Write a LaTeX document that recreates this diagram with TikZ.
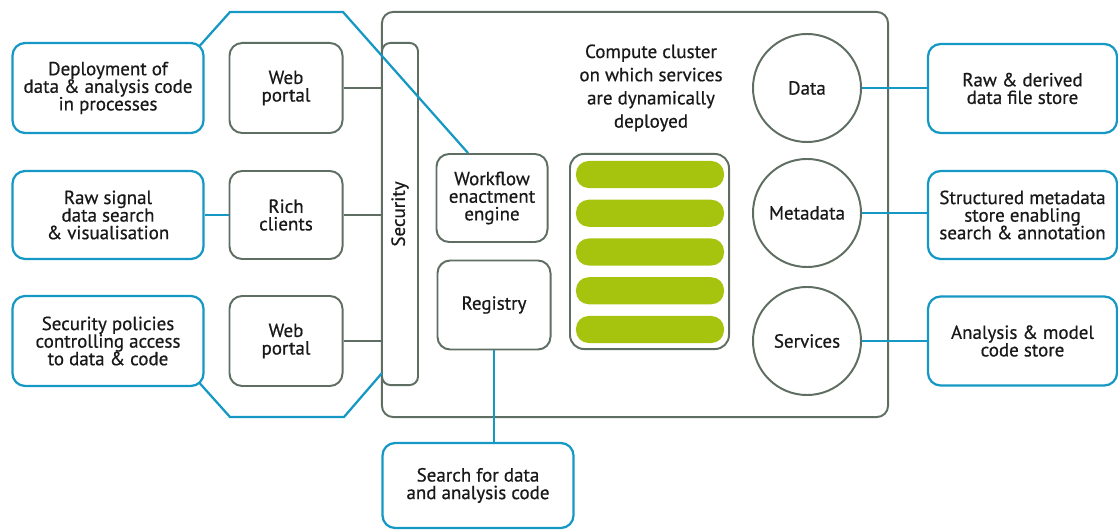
\documentclass[tikz,border=0pt]{standalone}
\usepackage{fontspec}
\setmainfont{PT Sans}[FakeBold=0.6]
\usepackage{xcolor}
\usetikzlibrary{calc,positioning}
\definecolor{lineblue}{RGB}{22,152,196}
\definecolor{framegrey}{RGB}{95,110,98}
\definecolor{cellgreen}{RGB}{166,196,14}
\tikzset{
  gbox/.style={draw=framegrey, line width=1.4pt, rounded corners=9pt, align=center,
    text=black!90, font=\fontsize{13.5}{12.5}\selectfont},
  bbox/.style={gbox, draw=lineblue, line width=1.6pt},
  gline/.style={draw=framegrey, line width=1.4pt},
  bline/.style={draw=lineblue, line width=1.6pt},
  store/.style={draw=framegrey, line width=1.4pt, circle, minimum size=2.7cm,
    text=black!90, font=\fontsize{13.5}{12.5}\selectfont},
  cell/.style={fill=cellgreen, rounded corners=9pt, minimum width=3.7cm, minimum height=0.675cm}
}
\begin{document}
\begin{tikzpicture}[x=0.025cm,y=-0.025cm]
\useasboundingbox (0,0) rectangle (1118,530);

\node [gbox, rounded corners=8pt, minimum width=12.65cm, minimum height=10.125cm] (cluster) at (635,214.5) {};
\node [gbox, rounded corners=6pt, minimum width=0.9cm, minimum height=8.55cm] (sec) at (400,214) {\rotatebox{90}{Security}};

% left side
\node [bbox, minimum width=4.775cm, minimum height=2.25cm] (deploy) at (108,88) {Deployment of\\data \& analysis code\\in processes};
\node [bbox, minimum width=4.775cm, minimum height=2.2cm] (signal) at (108,215) {Raw signal\\data search\\\& visualisation};
\node [bbox, minimum width=4.775cm, minimum height=2.25cm] (policy) at (108,341) {Security policies\\controlling access\\to data \& code};

\node [gbox, minimum width=2.825cm, minimum height=2.25cm] (web1) at (286,88) {Web\\portal};
\node [gbox, minimum width=2.825cm, minimum height=2.2cm] (rich) at (286,215) {Rich\\clients};
\node [gbox, minimum width=2.825cm, minimum height=2.25cm] (web2) at (286,341) {Web\\portal};

% inside the cluster
\node [gbox, minimum width=2.775cm, minimum height=2.2cm] (flow) at (492,198) {Workflow\\enactment\\engine};
\node [gbox, minimum width=2.825cm, minimum height=2.225cm] (reg) at (494,305) {Registry};

\node [align=center, text=black!90, font=\fontsize{13.5}{16.5}\selectfont] (ctext) at (651,88) {Compute cluster\\on which services\\are dynamically\\deployed};
\node [gbox, rounded corners=10pt, minimum width=3.975cm, minimum height=4.875cm] (pool) at (649.5,251.5) {};
\foreach \i in {0,...,4}
  \node [cell] (cell\i) at (650,174.5+38.75*\i) {};

\node [store] (data) at (807,88) {Data};
\node [store] (meta) at (807,213) {Metadata};
\node [store] (serv) at (807,341) {Services};

% right side
\node [bbox, minimum width=4.725cm, minimum height=2.225cm] (rawstore) at (1022.5,88.5) {Raw \& derived\\data file store};
\node [bbox, minimum width=4.725cm, minimum height=2.2cm, inner xsep=1pt] (metastore) at (1022.5,215) {Structured metadata\\store enabling\\search \& annotation};
\node [bbox, minimum width=4.725cm, minimum height=2.225cm] (codestore) at (1022.5,341) {Analysis \& model\\code store};

\node [bbox, minimum width=4.775cm, minimum height=2.125cm] (search) at (478,485.5) {Search for data\\and analysis code};

% connectors
\draw[gline] (web1.east) -- (web1.east -| sec.west);
\draw[gline] (rich.east) -- (rich.east -| sec.west);
\draw[gline] (web2.east) -- (web2.east -| sec.west);
\draw[bline] (signal.east) -- (rich.west);
\draw[bline] (data.east) -- (data.east -| rawstore.west);
\draw[bline] (meta.east) -- (meta.east -| metastore.west);
\draw[bline] (serv.east) -- (serv.east -| codestore.west);
\draw[bline] (reg.south) -- (reg.south |- search.north);

\coordinate (topl) at (230,12);
\coordinate (topr) at (343,12);
\coordinate (botl) at (230,417);
\coordinate (botr) at (344,417);
\coordinate (botend) at (382,373);
\draw[bline] ($(deploy.north east)+(-5,4)$) -- (topl) -- (topr) -- ($(flow.north)+(-24,0)$);
\draw[bline] ($(policy.south east)+(-5,-4)$) -- (botl) -- (botr) -- (botend);
\end{tikzpicture}
\end{document}
